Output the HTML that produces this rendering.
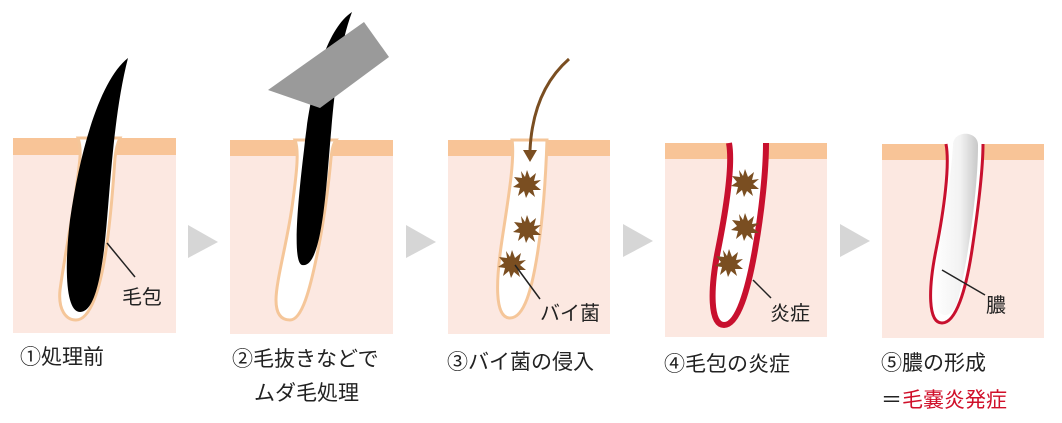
<!DOCTYPE html>
<html><head><meta charset="utf-8"><style>
html,body{margin:0;padding:0;background:#fff;}
svg{display:block;}
text{font-family:"Liberation Sans","Noto Sans CJK JP",sans-serif;fill:#222;}
</style></head><body>
<svg width="1062" height="423" viewBox="0 0 1062 423" xmlns="http://www.w3.org/2000/svg">
<defs>
<linearGradient id="pus" x1="0" y1="0" x2="1" y2="0">
<stop offset="0" stop-color="#ffffff"/><stop offset="0.6" stop-color="#f2f2f2"/><stop offset="1" stop-color="#c8c8c8"/>
</linearGradient>
<polygon id="star" points="0,-14 3,-6 9,-11 7,-3 14,-4 8,1 14,6 6,6 8,13 2,8 -1,14 -3,7 -9,12 -7,4 -14,3 -8,-1 -13,-7 -5,-6 -6,-13 -2,-7"/>
</defs>
<g>
<rect x="13" y="155" width="163" height="178" fill="#fce8e1"/><rect x="13" y="138" width="163" height="17" fill="#f8c497"/>
<rect x="230" y="156" width="163" height="178" fill="#fce8e1"/><rect x="230" y="140" width="163" height="16" fill="#f8c497"/>
<rect x="448" y="156" width="162" height="178" fill="#fce8e1"/><rect x="448" y="140" width="162" height="16" fill="#f8c497"/>
<rect x="665" y="159" width="162" height="178" fill="#fce8e1"/><rect x="665" y="143" width="162" height="16" fill="#f8c497"/>
<rect x="882" y="160" width="162" height="178" fill="#fce8e1"/><rect x="882" y="144" width="162" height="16" fill="#f8c497"/>
</g>
<g fill="#d6d6d6">
<polygon points="188,225 218,242 188,258"/>
<polygon points="406,225 436,242 406,258"/>
<polygon points="623,224 653,241 623,257"/>
<polygon points="840,224 870,241 840,257"/>
</g>
<!-- panel1 -->
<path d="M78,138 C82,150 80,160 76,190 C72,220 64,260 60,290 C58,310 66,320 76,320 C90,320 100,290 106,250 C112,210 114,170 115,158 C116,148 118,142 120,138 Z" fill="#fff" stroke="#f5c699" stroke-width="3"/>
<path d="M128,58 C100,80 80,150 70,220 C64,270 66,312 80,312 C94,312 100,280 104,250 C110,200 112,120 128,58 Z" fill="#000"/>
<line x1="107" y1="243" x2="135" y2="277" stroke="#222" stroke-width="1.5"/>
<text x="122" y="304" font-size="20">毛包</text>
<!-- panel2 -->
<path d="M295,140 C299,150 297,170 293,200 C288,240 276,280 276,300 C276,315 282,320 290,320 C302,320 310,290 318,250 C326,210 330,170 331,158 C332,150 333,144 336,140 Z" fill="#fff" stroke="#f5c699" stroke-width="3"/>
<path d="M352,12 C325,30 310,90 304,150 C298,200 292,262 302,265 C316,268 322,230 326,190 C332,130 334,60 352,12 Z" fill="#000"/>
<polygon points="268,90 364,22 389,57 320,108" fill="#9a9a9a"/>
<!-- panel3 -->
<path d="M512,140 C515,160 508,200 502,240 C496,280 494,318 510,318 C524,318 532,290 538,250 C544,210 546,170 547,140 Z" fill="#fff" stroke="#f5c699" stroke-width="3"/>
<path d="M569,59 C545,80 532,110 530,150" fill="none" stroke="#7a4e21" stroke-width="3"/>
<polygon points="523,150 537,150 530,162" fill="#7a4e21"/>
<g fill="#7a4e21"><use href="#star" x="527" y="184"/><use href="#star" x="527" y="229"/><use href="#star" x="512" y="264"/></g>
<line x1="515" y1="265" x2="540" y2="299" stroke="#222" stroke-width="1.5"/>
<text x="540" y="320" font-size="20">バイ菌</text>
<!-- panel4 -->
<path d="M729,143 C733,165 726,210 718,250 C710,290 710,325 724,325 C738,325 748,290 755,250 C762,210 766,170 766,143" fill="#fff" stroke="#c8102e" stroke-width="6"/>
<g fill="#7a4e21"><use href="#star" x="745" y="183"/><use href="#star" x="745" y="227"/><use href="#star" x="729" y="263"/></g>
<line x1="753" y1="280" x2="771" y2="298" stroke="#222" stroke-width="1.5"/>
<text x="770" y="320" font-size="20">炎症</text>
<!-- panel5 -->
<path d="M946,144 C950,165 944,210 936,250 C928,290 928,323 942,323 C956,323 966,290 972,250 C978,210 983,170 983,144" fill="#fff" stroke="#c8102e" stroke-width="3"/>
<path d="M953,145 C953,130 978,130 978,145 C978,190 968,260 958,300 C952,320 938,320 934,300 C932,270 950,200 953,145 Z" fill="url(#pus)"/>
<line x1="942" y1="270" x2="985" y2="295" stroke="#222" stroke-width="1.5"/>
<text x="986" y="312" font-size="20">膿</text>
<g font-size="21">
<text x="20" y="364">①処理前</text>
<text x="232" y="366">②毛抜きなどで</text>
<text x="254" y="400">ムダ毛処理</text>
<text x="447" y="369">③バイ菌の侵入</text>
<text x="664" y="371">④毛包の炎症</text>
<text x="881" y="370">⑤膿の形成</text>
<text x="881" y="407">＝<tspan fill="#d0102a">毛嚢炎発症</tspan></text>
</g>
</svg>
</body></html>
